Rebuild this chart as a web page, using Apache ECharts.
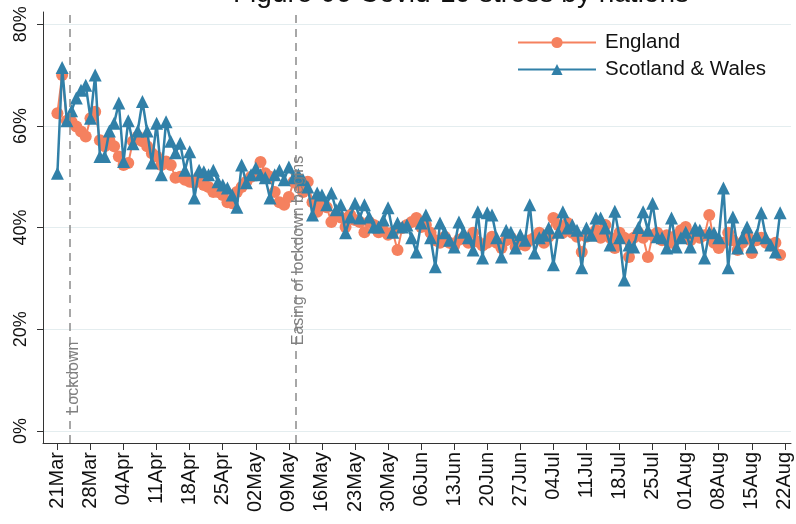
<!DOCTYPE html>
<html>
<head>
<meta charset="utf-8">
<script src="https://cdn.jsdelivr.net/npm/echarts@6/dist/echarts.min.js"></script>
<style>
html,body{margin:0;padding:0;background:#fff;}
#chart{width:796px;height:524px;}
</style>
</head>
<body>
<div id="chart"></div>
<script>
// ---- data ----
const title = 'Figure 06 Covid-19 stress by nations';
const seriesNames = ['England', 'Scotland & Wales'];
// x tick labels, one per week starting 21 Mar (day 0)
const tickLabels = ['21Mar','28Mar','04Apr','11Apr','18Apr','25Apr','02May','09May','16May','23May','30May','06Jun','13Jun','20Jun','27Jun','04Jul','11Jul','18Jul','25Jul','01Aug','08Aug','15Aug','22Aug'];
const yTicks = [0, 20, 40, 60, 80];
// daily values (%) from 21 Mar, day index = position
const england = [62.5,70,61,60.8,59.9,58.9,57.9,61.5,62.8,57.2,56,57.2,56,54,52.3,52.7,57,57.9,57,56,
54.6,54,52.3,53,52.3,49.8,50,49.4,49,48.8,50,48.4,48,47,47,46.4,45,44.8,47,48,
49,50,50.4,52.9,50.7,50,47,45,44.5,46,49,48.4,47,49,45,43.1,45,44,41.1,42.5,
42,40.1,42.5,41.5,41.1,39.1,41.1,40.5,39.1,39.5,38.6,39.1,35.6,39.9,40.5,41.1,41.9,40.1,40.5,39,
37.5,37,38.2,37,36.5,37.6,38,37,39,37.2,36.5,37,38.2,37,36,37.5,38,36.2,37,36.5,
37.5,38,39,37,38.2,41.9,40.5,39,40.9,39,38.2,35.2,38.2,38.5,39.5,38,40.5,38,36,39,
38,34.2,38,39,38,34.2,38.5,39,37.5,38.5,37,38.5,39.5,40.1,37.5,39,38,38.5,42.5,37,
36,37,39,37.5,35.6,37,38.5,35,37.5,38,37,36.5,37,34.6];
const scotWales = [50.7,71.5,61,63,65.5,67,68,61.5,70,54,54,59,60.5,64.5,53,61,56.5,59,64.8,59,
52.7,60.5,50.4,60.8,57,54.7,56.6,51.3,54.9,45.8,51.3,51,50.4,51.3,49,48.4,47.8,46.4,44,52.3,
48.8,50.4,51.7,50.4,49.8,45.8,50.4,51.3,49.4,51.9,49.8,50.4,49.4,48,42.5,46.8,46.4,44.5,46.8,43.5,
44.5,39,42.1,44.8,41.9,44.5,42.1,40.1,40.1,41.5,43.9,39.1,40.9,40.1,40.5,38,35.2,40.9,42.5,38,
32.3,40.9,39,37.5,36.2,41.1,39.1,38,35.6,43.1,34,42.9,42.5,38,34.2,39.5,39.1,36,38.6,37.5,
44.5,35,38,38.5,39.9,32.7,39.1,43.1,39.9,40.5,39.5,32.1,39.9,38.5,41.9,41.9,39.9,36.6,43.2,38,
29.7,36.6,36.2,40,43.1,39.5,44.8,38.2,38,36,41.9,36.2,38,39.1,36.2,39.9,39.5,34,39.1,39,
38,47.8,32.1,42.1,36,38,40.1,36.2,38.5,42.9,38,36.6,35.2,42.9];
// event markers (day index from 21 Mar) and label heights (%)
const eventNames = ['Lockdown', 'Easing of lockdown begins'];
const eventDays = [2.7, 50.4];
const eventLabelY = [10.5, 35.5];

// ---- build ----
const tickDays = tickLabels.map((_, i) => i * 7);
const toPairs = arr => arr.map((v, i) => [i, v]);
const FONT = '"Liberation Sans", Arial, sans-serif';
const cEng = '#F5815F';
const cSW = '#3180A8';

const chart = echarts.init(document.getElementById('chart'), null, {renderer: 'canvas'});
const option = {
  animation: false,
  backgroundColor: '#ffffff',
  textStyle: {fontFamily: FONT},
  grid: {left: 43, right: 5, top: 12, bottom: 81, containLabel: false},
  legend: {
    orient: 'vertical', left: 512, top: 27, itemWidth: 78, itemHeight: 14, itemGap: 6,
    textStyle: {fontSize: 20.5, color: '#111', fontFamily: FONT, padding: [0, 0, 0, 4]},
    data: seriesNames
  },
  xAxis: {
    type: 'value', min: -3.05, max: 155.3,
    axisLine: {show: true, onZero: false, lineStyle: {color: '#333', width: 1}},
    axisTick: {show: true, length: 7, customValues: tickDays, lineStyle: {color: '#333'}},
    axisLabel: {
      customValues: tickDays, rotate: 90, fontSize: 20, color: '#111', margin: 9, fontFamily: FONT,
      formatter: v => tickLabels[Math.round(v / 7)]
    },
    splitLine: {show: false}
  },
  yAxis: {
    type: 'value', min: -2.36, max: 82.4,
    axisLine: {show: true, onZero: false, lineStyle: {color: '#333', width: 1}},
    axisTick: {show: true, length: 6, customValues: yTicks, lineStyle: {color: '#333'}},
    axisLabel: {
      customValues: yTicks, rotate: 90, fontSize: 18, color: '#111', margin: 13, fontFamily: FONT,
      formatter: v => Math.round(v) + '%'
    },
    splitLine: {show: true, lineStyle: {color: '#e4edef', width: 1}}
  },
  series: [
    {
      name: seriesNames[0], type: 'line', data: toPairs(england),
      symbol: 'circle', symbolSize: 12, color: cEng,
      lineStyle: {width: 2, color: cEng}, itemStyle: {color: cEng},
      markLine: {
        silent: true, symbol: 'none', animation: false,
        lineStyle: {type: [8, 6], color: '#8a8a8a', width: 1.5},
        label: {show: false},
        data: eventDays.map(d => ({xAxis: d}))
      },
      z: 2
    },
    {
      name: seriesNames[1], type: 'line', data: toPairs(scotWales),
      symbol: 'triangle', symbolSize: 13, color: cSW,
      lineStyle: {width: 2.5, color: cSW}, itemStyle: {color: cSW},
      z: 3
    }
  ]
};
chart.setOption(option);

// title (partly outside the top edge like the reference) and event labels
const gfx = [{
  type: 'text', x: 461, y: 8,
  style: {text: title, font: '28px ' + FONT, fill: '#111', align: 'center', verticalAlign: 'bottom'}
}];
eventNames.forEach((name, i) => {
  const p = chart.convertToPixel({gridIndex: 0}, [eventDays[i], eventLabelY[i]]);
  gfx.push({
    type: 'text', x: p[0] + 3, y: p[1], rotation: Math.PI / 2, z: 10,
    style: {text: name, font: '16px ' + FONT, fill: '#808080', align: 'center', verticalAlign: 'middle'}
  });
});
chart.setOption({graphic: gfx});
</script>
</body>
</html>
